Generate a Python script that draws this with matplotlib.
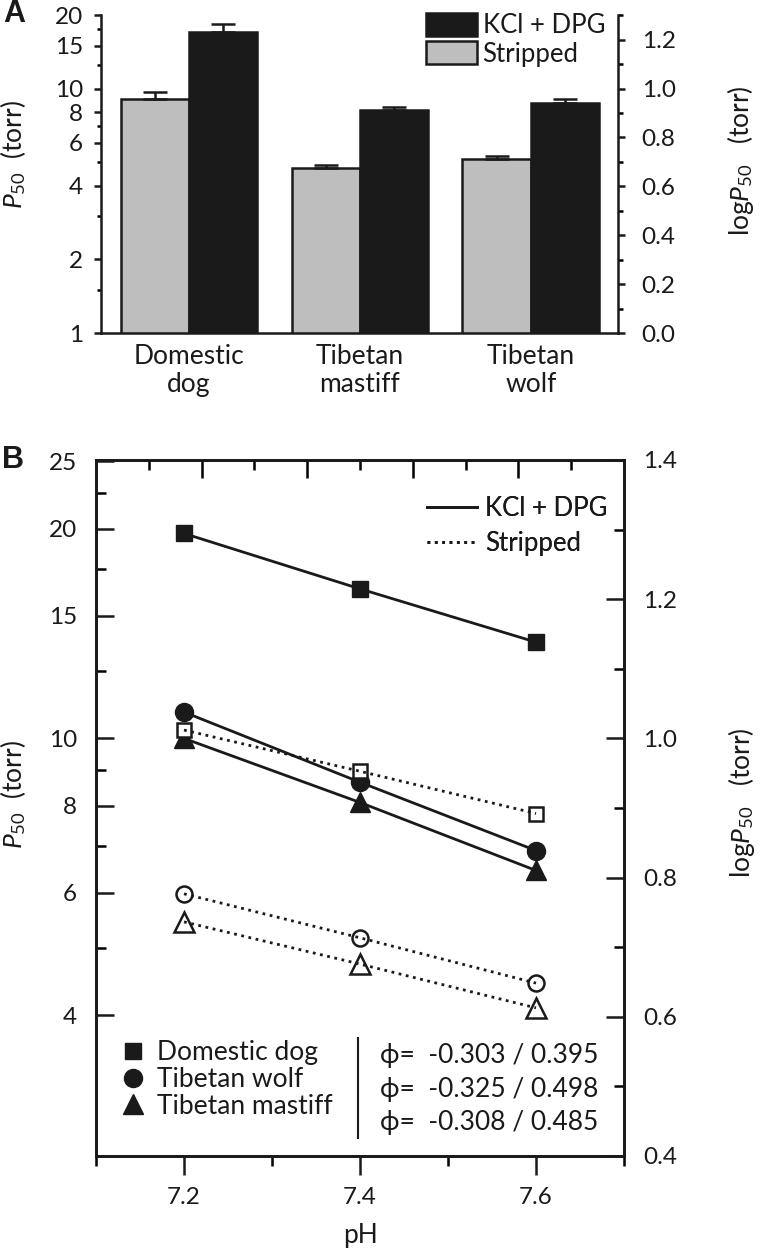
import matplotlib
matplotlib.use('Agg')
import matplotlib.pyplot as plt
from matplotlib.lines import Line2D
from matplotlib.patches import Patch
from matplotlib.ticker import FixedLocator, NullFormatter
import numpy as np

plt.rcParams['font.family'] = ['Lato', 'DejaVu Sans']
plt.rcParams['mathtext.fontset'] = 'custom'
plt.rcParams['mathtext.rm'] = 'Lato'
plt.rcParams['mathtext.it'] = 'Lato:italic'
plt.rcParams['mathtext.bf'] = 'Lato:bold'

INK = '#1a1a1a'
GREY = '#bebebe'

# ---------------- Panel A data ----------------
species_a = ['Domestic\ndog', 'Tibetan\nmastiff', 'Tibetan\nwolf']
p50_stripped = [9.07, 4.73, 5.15]
p50_stripped_err = [0.60, 0.12, 0.13]
p50_kcl = [16.97, 8.15, 8.76]
p50_kcl_err = [1.40, 0.23, 0.28]
a_left_ticks = [1, 2, 4, 6, 8, 10, 15, 20]
a_left_minor = [1.5, 3, 5, 7, 12.5, 17.5]
a_right_ticks = [0.0, 0.2, 0.4, 0.6, 0.8, 1.0, 1.2]
a_right_minor = [0.1, 0.3, 0.5, 0.7, 0.9, 1.1, 1.3]

# ---------------- Panel B data ----------------
ph = [7.2, 7.4, 7.6]
dog_kcl = [19.7, 16.4, 13.75]
dog_str = [10.28, 8.97, 7.80]
wolf_kcl = [10.91, 8.65, 6.90]
wolf_str = [5.98, 5.17, 4.45]
mast_kcl = [10.0, 8.09, 6.46]
mast_str = [5.45, 4.74, 4.10]
species_b = ['Domestic dog', 'Tibetan wolf', 'Tibetan mastiff']
phi_kcl = ['-0.303', '-0.325', '-0.308']
phi_str = ['0.395', '0.498', '0.485']
b_left_ticks = [4, 6, 8, 10, 15, 20, 25]
b_left_minor = [5, 7, 9, 12.5, 17.5, 22.5]
b_right_ticks = [0.4, 0.6, 0.8, 1.0, 1.2, 1.4]
b_right_minor = [0.5, 0.7, 0.9, 1.1, 1.3]
b_x_ticks = [7.2, 7.4, 7.6]
b_x_minor = [7.1, 7.3, 7.5, 7.7]

W, H = 760, 1249
fig = plt.figure(figsize=(W / 100, H / 100), dpi=100)


def rect(l, t, r, b):
    return [l / W, 1 - b / H, (r - l) / W, (b - t) / H]


TICK_FS = 17.5
LAB_FS = 19
LW = 1.8

# ================= Panel A =================
axA = fig.add_axes(rect(101, 15, 618, 333))
axA.set_yscale('log')
x = np.arange(len(species_a))
w = 0.40
ekw = dict(ecolor=INK, elinewidth=LW, capsize=8.5, capthick=LW)
axA.bar(x - w / 2, p50_stripped, w, yerr=[[0] * 3, p50_stripped_err],
        color=GREY, edgecolor=INK, linewidth=LW, error_kw=ekw)
axA.bar(x + w / 2, p50_kcl, w, yerr=[[0] * 3, p50_kcl_err],
        color=INK, edgecolor=INK, linewidth=LW, error_kw=ekw)
axA.set_ylim(1, 20)
axA.set_xlim(-0.515, 2.51)
axA.yaxis.set_major_locator(FixedLocator(a_left_ticks))
axA.set_yticklabels([str(v) for v in a_left_ticks])
axA.yaxis.set_minor_locator(FixedLocator(a_left_minor))
axA.yaxis.set_minor_formatter(NullFormatter())
axA.set_xticks(x)
axA.set_xticklabels(species_a, fontsize=19, color=INK, linespacing=1.15)
axA.tick_params(axis='x', length=0, pad=8)
axA.tick_params(axis='y', which='major', direction='out', length=5, width=LW,
                labelsize=TICK_FS, pad=8, colors=INK)
axA.tick_params(axis='y', which='minor', direction='out', length=3.2, width=LW)
for s in ['top', 'right']:
    axA.spines[s].set_visible(False)
for s in ['left', 'bottom']:
    axA.spines[s].set_linewidth(LW)
    axA.spines[s].set_color(INK)
axA.set_ylabel(r'$\mathit{P}_{50}$  (torr)', fontsize=LAB_FS, color=INK, va='center')
axA.yaxis.set_label_coords((13 - 101) / 517, (333 - 155) / 318)

axA2 = axA.twinx()
axA2.set_ylim(0, np.log10(20))
axA2.yaxis.set_major_locator(FixedLocator(a_right_ticks))
axA2.set_yticklabels(['%.1f' % v for v in a_right_ticks])
axA2.yaxis.set_minor_locator(FixedLocator(a_right_minor))
axA2.yaxis.set_minor_formatter(NullFormatter())
axA2.tick_params(axis='y', which='major', direction='out', length=5, width=LW,
                 labelsize=TICK_FS, pad=12, colors=INK)
axA2.tick_params(axis='y', which='minor', direction='out', length=3.5, width=LW)
for s in ['top', 'left', 'bottom']:
    axA2.spines[s].set_visible(False)
axA2.spines['right'].set_linewidth(LW)
axA2.spines['right'].set_color(INK)
axA2.set_ylabel(r'log$\mathit{P}_{50}$   (torr)', fontsize=LAB_FS, color=INK,
                va='center', rotation=90)
axA2.yaxis.set_label_coords((741 - 101) / 517, (333 - 161) / 318)

legA = axA2.legend(
    handles=[Patch(facecolor=INK, edgecolor=INK, linewidth=LW),
             Patch(facecolor=GREY, edgecolor=INK, linewidth=LW)],
    labels=['KCl + DPG', 'Stripped'],
    loc='upper left', bbox_to_anchor=((426 - 101) / 517, 1.006),
    frameon=False, fontsize=18.5, handlelength=2.0, handleheight=1.0,
    handletextpad=0.2, labelspacing=0.12, borderpad=0, borderaxespad=0)
for t in legA.get_texts():
    t.set_color(INK)

# ================= Panel B =================
axB = fig.add_axes(rect(96, 460, 624, 1156))
axB.set_yscale('log')
axB.set_ylim(10 ** 0.4, 10 ** 1.4)
axB.set_xlim(7.1, 7.7)

LLW = 2.0
axB.plot(ph, dog_kcl, '-', marker='s', color=INK, lw=LLW, ms=11.5, zorder=3)
axB.plot(ph, wolf_kcl, '-', marker='o', color=INK, lw=LLW, ms=13, zorder=3)
axB.plot(ph, mast_kcl, '-', marker='^', color=INK, lw=LLW, ms=14, zorder=3)
for ys, mk, ms in [(dog_str, 's', 10.5), (wolf_str, 'o', 11.5), (mast_str, '^', 14)]:
    axB.plot(ph, ys, ls='none', marker=mk, mfc='white', mec=INK, mew=1.8,
             ms=ms, zorder=4)
    axB.plot(ph, ys, ls=':', color=INK, lw=LLW, zorder=5)

axB.yaxis.set_major_locator(FixedLocator(b_left_ticks))
axB.set_yticklabels([str(v) for v in b_left_ticks])
axB.yaxis.set_minor_locator(FixedLocator(b_left_minor))
axB.yaxis.set_minor_formatter(NullFormatter())
axB.xaxis.set_major_locator(FixedLocator(b_x_ticks))
axB.set_xticklabels(['%.1f' % v for v in b_x_ticks])
axB.xaxis.set_minor_locator(FixedLocator(b_x_minor))
axB.xaxis.set_minor_formatter(NullFormatter())
axB.tick_params(axis='y', which='major', direction='in', length=13, width=LW,
                labelsize=TICK_FS, pad=13.5, colors=INK, right=False)
axB.tick_params(axis='y', which='minor', direction='in', length=7, width=LW, right=False)
axB.tick_params(axis='x', which='major', direction='out', length=13.5, width=LW,
                labelsize=TICK_FS, pad=8.5, colors=INK, top=False)
axB.tick_params(axis='x', which='minor', direction='out', length=7, width=LW, top=False)
for s in axB.spines.values():
    s.set_linewidth(LW)
    s.set_color(INK)
axB.set_ylabel(r'$\mathit{P}_{50}$  (torr)', fontsize=LAB_FS, color=INK, va='center')
axB.yaxis.set_label_coords((13 - 96) / 528, (1156 - 795) / 696)
axB.set_xlabel('pH', fontsize=LAB_FS, color=INK)
axB.xaxis.set_label_coords(0.5, (1156 - 1236) / 696)
axB.xaxis.label.set_va('center')

axB2 = axB.twinx()
axB2.set_ylim(0.4, 1.4)
axB2.yaxis.set_major_locator(FixedLocator(b_right_ticks))
axB2.set_yticklabels(['%.1f' % v for v in b_right_ticks])
axB2.yaxis.set_minor_locator(FixedLocator(b_right_minor))
axB2.yaxis.set_minor_formatter(NullFormatter())
axB2.tick_params(axis='y', which='major', direction='in', length=13, width=LW,
                 labelsize=TICK_FS, pad=13.5, colors=INK)
axB2.tick_params(axis='y', which='minor', direction='in', length=7, width=LW)
for s in axB2.spines.values():
    s.set_linewidth(LW)
    s.set_color(INK)
axB2.set_ylabel(r'log$\mathit{P}_{50}$   (torr)', fontsize=LAB_FS, color=INK,
                va='center', rotation=90)
axB2.yaxis.set_label_coords((741 - 96) / 528, (1156 - 803) / 696)

axB3 = axB.twiny()
axB3.set_xlim(0, 10)
axB3.xaxis.set_major_locator(FixedLocator([2, 4, 6, 8]))
axB3.xaxis.set_minor_locator(FixedLocator([1, 3, 5, 7, 9]))
axB3.xaxis.set_major_formatter(NullFormatter())
axB3.xaxis.set_minor_formatter(NullFormatter())
axB3.tick_params(axis='x', which='major', direction='in', length=13, width=LW)
axB3.tick_params(axis='x', which='minor', direction='in', length=7, width=LW)
for s in axB3.spines.values():
    s.set_linewidth(LW)
    s.set_color(INK)

legB1 = axB3.legend(
    handles=[Line2D([], [], color=INK, lw=LLW, ls='-'),
             Line2D([], [], color=INK, lw=LLW, ls=':')],
    labels=['KCl + DPG', 'Stripped'],
    loc='upper left', bbox_to_anchor=((427 - 96) / 528, (1156 - 496) / 696),
    frameon=False, fontsize=18.5, handlelength=1.95, handletextpad=0.3,
    labelspacing=0.38, borderpad=0, borderaxespad=0)
for t in legB1.get_texts():
    t.set_color(INK)
axB3.add_artist(legB1)

legB2 = axB.legend(
    handles=[Line2D([], [], ls='none', marker='s', color=INK, ms=11),
             Line2D([], [], ls='none', marker='o', color=INK, ms=13),
             Line2D([], [], ls='none', marker='^', color=INK, ms=15)],
    labels=species_b,
    loc='upper left', bbox_to_anchor=((120 - 96) / 528, (1156 - 1040) / 696),
    frameon=False, fontsize=19, handlelength=1.0, handletextpad=0.4,
    labelspacing=0.07, borderpad=0, borderaxespad=0)
for t in legB2.get_texts():
    t.set_color(INK)

row_base = [1063, 1097, 1130]
for yb, k, s in zip(row_base, phi_kcl, phi_str):
    axB.text((380 - 96) / 528, (1156 - yb) / 696, '\u03d5=  %s / %s' % (k, s),
             transform=axB.transAxes, fontsize=19, color=INK, va='baseline',
             ha='left')
axB.add_line(Line2D([(358 - 96) / 528] * 2,
                    [(1156 - 1138) / 696, (1156 - 1038) / 696],
                    transform=axB.transAxes, color=INK, lw=1.5))

fig.text(14 / W, 1 - 14 / H, 'A', fontsize=22, fontweight='bold',
         family='Liberation Sans', ha='center', va='center', color=INK)
fig.text(13 / W, 1 - 460 / H, 'B', fontsize=22, fontweight='bold',
         family='Liberation Sans', ha='center', va='center', color=INK)

fig.savefig('out.png', dpi=100)
